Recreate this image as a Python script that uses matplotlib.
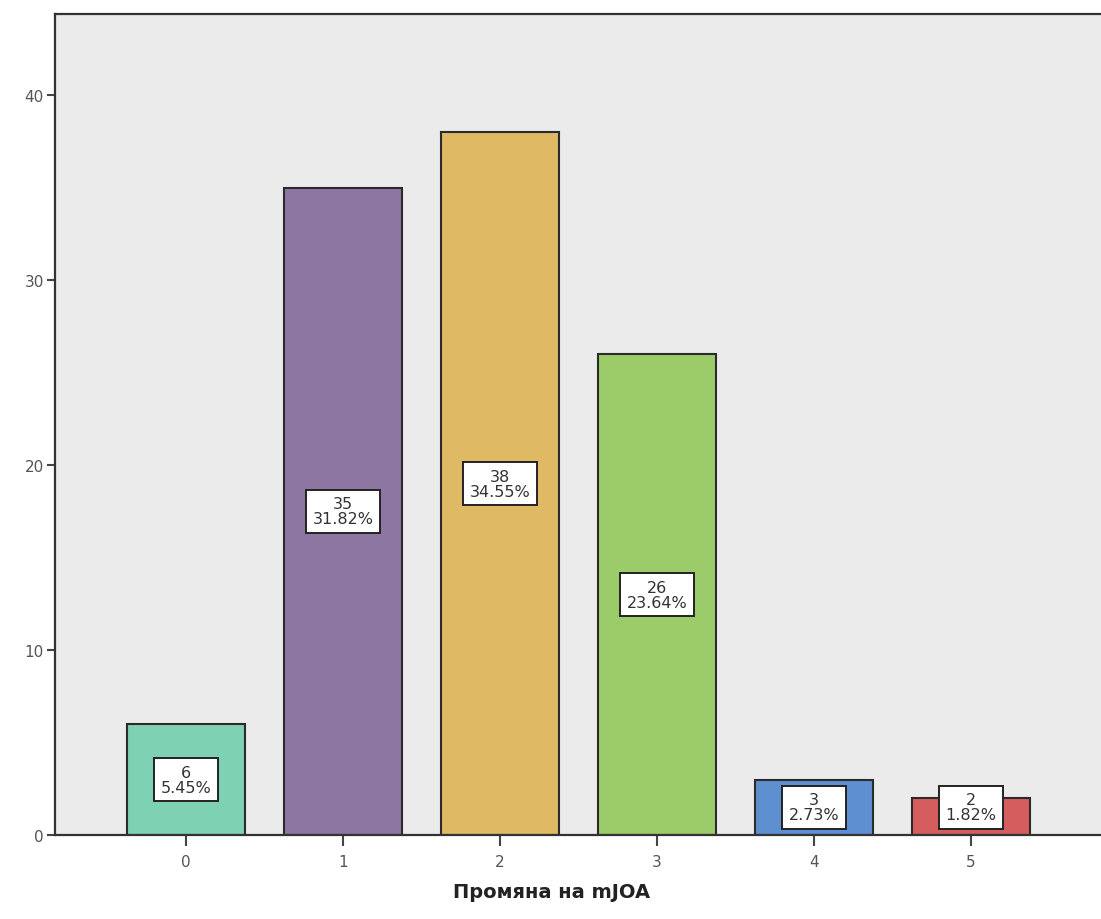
import matplotlib
matplotlib.use("Agg")
import matplotlib.pyplot as plt

# =========================
# DATOS
# =========================
categorias = ["0", "1", "2", "3", "4", "5"]
conteos = [6, 35, 38, 26, 3, 2]
porcentajes = ["5.45%", "31.82%", "34.55%", "23.64%", "2.73%", "1.82%"]
colores = ["#7fd1b3", "#8e76a2", "#e0b964", "#9ccb69", "#5e8fd0", "#d65d5d"]

# =========================
# GRAFICO
# =========================
fig = plt.figure(figsize=(11.01, 9.2), dpi=100)
ax = fig.add_axes([0.05, 0.0913, 0.951, 0.8924])
ax.set_facecolor("#ebebeb")

x = list(range(len(categorias)))
ax.bar(x, conteos, width=0.75, color=colores, edgecolor="#2b2b2b", linewidth=1.5, zorder=2)

# etiquetas: conteo + porcentaje
for xi, c, p in zip(x, conteos, porcentajes):
    ax.text(xi, max(c / 2, 1.5), f"{c}\n{p}", ha="center", va="center",
            fontsize=11.5, color="#333333", linespacing=1.0, zorder=3,
            bbox=dict(boxstyle="square,pad=0.4", facecolor="white",
                      edgecolor="#222222", linewidth=1.4))

ax.set_xlim(-0.834, 5.834)
ax.set_ylim(0, 44.4)
ax.set_xticks(x)
ax.set_xticklabels(categorias)
ax.set_yticks([0, 10, 20, 30, 40])

ax.tick_params(axis="both", colors="#444444", labelcolor="#555555", labelsize=11, width=1.5)
ax.tick_params(axis="y", length=6, pad=2)
ax.tick_params(axis="x", length=8, pad=6)

for side in ["left", "bottom", "top"]:
    ax.spines[side].set_linewidth(1.6)
    ax.spines[side].set_color("#333333")
ax.spines["right"].set_visible(False)

ax.set_xlabel("Промяна на mJOA", fontsize=14, fontweight="bold", color="#222222")
ax.xaxis.set_label_coords(0.474, -0.057)

fig.savefig("out.png", dpi=100)
